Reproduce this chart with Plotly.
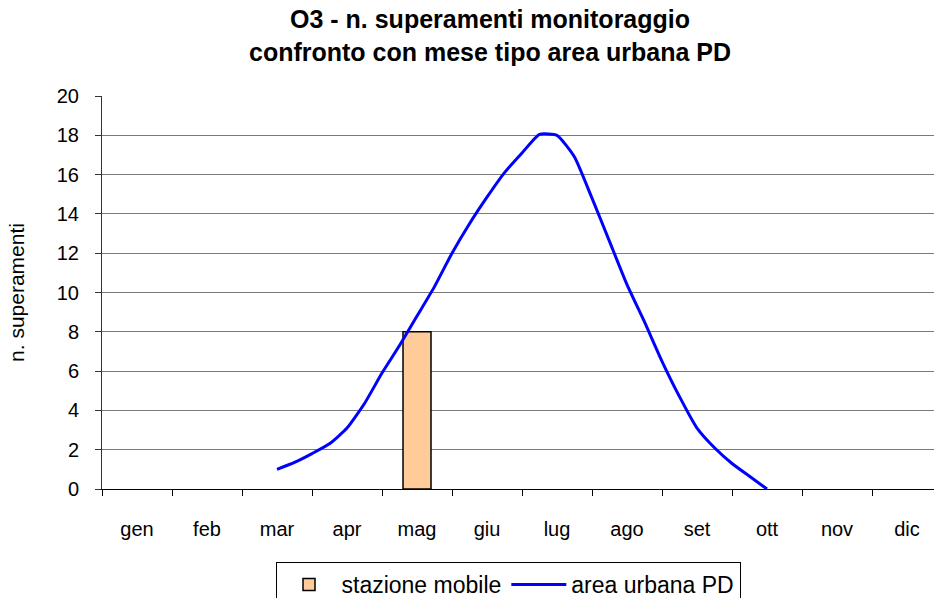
import plotly.graph_objects as go

months = ["gen", "feb", "mar", "apr", "mag", "giu", "lug", "ago", "set", "ott", "nov", "dic"]

# stazione mobile (bar): month index and value
bar_month = [4]
bar_values = [8]

# area urbana PD (smoothed curve), sampled every quarter month from mar (2) to ott (9)
line_x = [2.0, 2.25, 2.5, 2.75, 3.0, 3.25, 3.5, 3.75, 4.0, 4.25, 4.5, 4.75, 5.0, 5.25,
          5.5, 5.75, 6.0, 6.25, 6.5, 6.75, 7.0, 7.25, 7.5, 7.75, 8.0, 8.25, 8.5, 8.75, 9.0]
line_values = [1.0, 1.35, 1.8, 2.3, 3.1, 4.35, 5.9, 7.3, 8.8, 10.3, 12.0, 13.5, 14.85, 16.1,
               17.1, 18.05, 18.0, 16.9, 14.8, 12.6, 10.4, 8.5, 6.5, 4.7, 3.1, 2.1, 1.3, 0.65, 0.0]

y_ticks = list(range(0, 21, 2))

FONT = "Liberation Sans, Arial, sans-serif"

fig = go.Figure()
fig.add_trace(go.Bar(
    x=bar_month, y=bar_values, width=0.4, name="stazione mobile",
    marker=dict(color="#FFCC99", line=dict(color="black", width=1.5)),
))
fig.add_trace(go.Scatter(
    x=line_x, y=line_values, mode="lines", name="area urbana PD",
    line=dict(color="#0000FF", width=3, shape="spline", smoothing=0.5),
))

fig.update_layout(
    width=934, height=598,
    paper_bgcolor="white", plot_bgcolor="white",
    margin=dict(l=102, r=0, t=96, b=109, autoexpand=False),
    font=dict(family=FONT, size=20, color="black"),
    annotations=[dict(
        text="<b>O3 - n. superamenti monitoraggio<br>confronto con mese tipo area urbana PD</b>",
        xref="paper", yref="paper",
        x=(490 - 102) / 832, xanchor="center",
        y=1 + (96 - 3) / 393, yanchor="top",
        showarrow=False, align="center",
        font=dict(family=FONT, size=25, color="black"),
    )],
    showlegend=True,
    legend=dict(
        orientation="h",
        xref="container", yref="container",
        x=508 / 934, xanchor="center",
        y=1 - 562 / 598, yanchor="top",
        bordercolor="black", borderwidth=1,
        bgcolor="white",
        font=dict(family=FONT, size=23),
        itemwidth=55,
        tracegroupgap=0,
    ),
    bargap=0.6,
)

fig.update_xaxes(
    range=[-0.5, 11.5 - 8 / 70],
    tickmode="array", tickvals=list(range(12)), ticktext=months,
    ticks="", ticklabelstandoff=22, automargin=False,
    showline=True, linecolor="black", linewidth=1,
    showgrid=False, zeroline=False,
    minor=dict(tickmode="array", tickvals=[i - 0.5 for i in range(13)],
               ticks="outside", ticklen=6, tickcolor="black", tickwidth=1, showgrid=False),
    tickfont=dict(family=FONT, size=20),
)
fig.update_yaxes(
    range=[0, 20], automargin=False,
    tickmode="array", tickvals=y_ticks,
    ticks="outside", ticklen=6, tickcolor="#333", tickwidth=1,
    ticklabelstandoff=12,
    showline=True, linecolor="#333", linewidth=1,
    showgrid=True, gridcolor="#7a7a7a", gridwidth=1,
    zeroline=False,
    title=dict(text="n. superamenti", font=dict(family=FONT, size=21), standoff=26),
    tickfont=dict(family=FONT, size=20),
)

fig.write_html(
    "out.html",
    config={"displayModeBar": False},
    post_script="document.body.style.margin='0';document.body.style.padding='0';",
)
